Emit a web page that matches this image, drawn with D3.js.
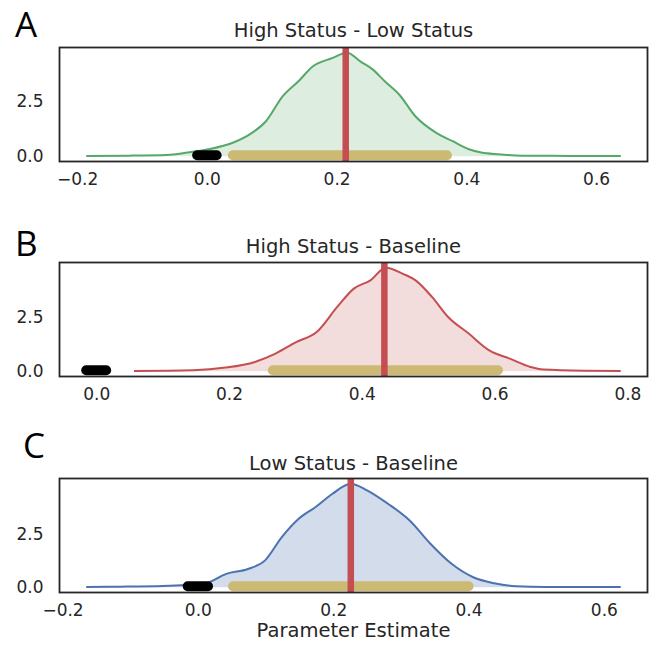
<!DOCTYPE html>
<html>
<head>
<meta charset="utf-8">
<script src="https://cdn.jsdelivr.net/npm/d3@7"></script>
<style>
  body { margin: 0; background: #fff; }
  svg { display: block; }
</style>
</head>
<body>
<div id="chart"></div>
<script>
// Panel labels and titles
const letters = ["A", "B", "C"];
const titles = ["High Status - Low Status", "High Status - Baseline", "Low Status - Baseline"];
const curveColors = ["#55a868", "#c44e52", "#4c72b0"];

// Posterior densities: [parameter, density]
const densityA = [
    [-0.186, 0.02], [-0.12, 0.03], [-0.062, 0.06], [-0.03, 0.17], [0.002, 0.32], [0.04, 0.62],
    [0.066, 1.0], [0.091, 1.6], [0.117, 2.75], [0.142, 3.45], [0.163, 4.1], [0.193, 4.48],
    [0.216, 4.73], [0.238, 4.3], [0.255, 3.98], [0.275, 3.4], [0.297, 2.8], [0.321, 1.84],
    [0.353, 1.08], [0.378, 0.7], [0.404, 0.32], [0.423, 0.17], [0.449, 0.09], [0.487, 0.03],
    [0.56, 0.02], [0.638, 0.02]
];
const densityB = [
    [0.057, 0.02], [0.146, 0.05], [0.195, 0.17], [0.239, 0.43], [0.27, 0.81], [0.301, 1.34],
    [0.332, 1.8], [0.363, 2.95], [0.388, 3.79], [0.413, 4.17], [0.436, 4.75], [0.462, 4.47],
    [0.481, 4.17], [0.506, 3.4], [0.53, 2.49], [0.561, 1.73], [0.592, 0.96], [0.623, 0.58],
    [0.654, 0.2], [0.673, 0.08], [0.735, 0.03], [0.79, 0.02]
];
const densityC = [
    [-0.165, 0.02], [-0.115, 0.03], [-0.052, 0.06], [0.011, 0.19], [0.042, 0.63], [0.074, 0.86],
    [0.099, 1.25], [0.124, 2.35], [0.149, 3.21], [0.174, 3.76], [0.199, 4.38], [0.226, 4.85],
    [0.25, 4.54], [0.281, 3.91], [0.313, 3.13], [0.344, 2.03], [0.375, 1.1], [0.407, 0.47],
    [0.438, 0.19], [0.47, 0.05], [0.514, 0.02], [0.625, 0.02]
];
const densities = [densityA, densityB, densityC];

// Posterior means (red line), 95% HDI (gold bar), zero marker (black bar)
const means = [0.214, 0.434, 0.226];
const hdis = [[0.04, 0.37], [0.266, 0.605], [0.052, 0.4]];
const zeroMarks = [[-0.015, 0.015], [-0.015, 0.015], [-0.015, 0.015]];

// Tick labels
const xTicks = [
    [-0.2, 0.0, 0.2, 0.4, 0.6],
    [0.0, 0.2, 0.4, 0.6, 0.8],
    [-0.2, 0.0, 0.2, 0.4, 0.6]
];
const yTicks = [0, 2.5];
const xLabel = "Parameter Estimate";

const width = 654, height = 652;
const left = 59.5, plotW = 588;
const tops = [47.5, 262.5, 478.5];
const plotH = 114;
const letterY = [37, 256, 458];
const titleOffset = [10.5, 9.8, 8.5];

const svg = d3.select("#chart").append("svg")
    .attr("width", width)
    .attr("height", height)
    .style("font-family", "DejaVu Sans, sans-serif");

const fmt = d3.format(".1f");

densities.forEach((dens, i) => {
    const g = svg.append("g").attr("transform", `translate(${left},${tops[i]})`);

    // matplotlib style autoscale with 5% margins
    const xs = dens.map(d => d[0]).concat(hdis[i], zeroMarks[i]);
    const xMin = d3.min(xs), xMax = d3.max(xs);
    const xPad = (xMax - xMin) * 0.05;
    const x = d3.scaleLinear().domain([xMin - xPad, xMax + xPad]).range([0, plotW]);

    const peak = d3.max(dens, d => d[1]);
    const y = d3.scaleLinear().domain([-0.05 * peak, 1.05 * peak]).range([plotH, 0]);

    const area = d3.area()
        .x(d => x(d[0]))
        .y0(y(0))
        .y1(d => y(d[1]))
        .curve(d3.curveMonotoneX);
    const line = d3.line()
        .x(d => x(d[0]))
        .y(d => y(d[1]))
        .curve(d3.curveMonotoneX);

    g.append("path")
        .datum(dens)
        .attr("d", area)
        .attr("fill", curveColors[i])
        .attr("fill-opacity", i === 2 ? 0.25 : 0.2);

    g.append("path")
        .datum(dens)
        .attr("d", line)
        .attr("fill", "none")
        .attr("stroke", curveColors[i])
        .attr("stroke-width", 2);

    // HDI bar
    g.append("line")
        .attr("x1", x(hdis[i][0]))
        .attr("x2", x(hdis[i][1]))
        .attr("y1", y(0.05))
        .attr("y2", y(0.05))
        .attr("stroke", "#ccb974")
        .attr("stroke-width", 10)
        .attr("stroke-linecap", "round");

    // zero marker
    g.append("line")
        .attr("x1", x(zeroMarks[i][0]))
        .attr("x2", x(zeroMarks[i][1]))
        .attr("y1", y(0.05))
        .attr("y2", y(0.05))
        .attr("stroke", "#000")
        .attr("stroke-width", 10)
        .attr("stroke-linecap", "round");

    // mean line
    g.append("line")
        .attr("x1", x(means[i]))
        .attr("x2", x(means[i]))
        .attr("y1", 0)
        .attr("y2", plotH)
        .attr("stroke", "#c44e52")
        .attr("stroke-width", 6.5);

    // frame
    g.append("rect")
        .attr("width", plotW)
        .attr("height", plotH)
        .attr("fill", "none")
        .attr("stroke", "#262626")
        .attr("stroke-width", 1.8);

    // axes
    const xAxis = g.append("g")
        .attr("transform", `translate(0,${plotH})`)
        .call(d3.axisBottom(x).tickValues(xTicks[i]).tickFormat(fmt).tickSize(0).tickPadding(11));
    const yAxis = g.append("g")
        .call(d3.axisLeft(y).tickValues(yTicks).tickFormat(fmt).tickSize(0).tickPadding(16));
    [xAxis, yAxis].forEach(a => {
        a.select(".domain").remove();
        a.selectAll("text")
            .attr("fill", "#262626")
            .style("font-family", "DejaVu Sans, sans-serif")
            .style("font-size", "17px");
    });

    // title
    g.append("text")
        .attr("x", plotW / 2)
        .attr("y", -titleOffset[i])
        .attr("text-anchor", "middle")
        .attr("fill", "#262626")
        .style("font-size", "19.5px")
        .text(titles[i]);

    // panel letter
    svg.append("text")
        .attr("x", i === 2 ? 23 : 15)
        .attr("y", letterY[i])
        .attr("fill", "#000")
        .style("font-family", "Open Sans, sans-serif")
        .style("font-size", "35px")
        .style("font-weight", 500)
        .text(letters[i]);
});

svg.append("text")
    .attr("x", left + plotW / 2)
    .attr("y", 637)
    .attr("text-anchor", "middle")
    .attr("fill", "#262626")
    .style("font-size", "19.5px")
    .text(xLabel);
</script>
</body>
</html>
